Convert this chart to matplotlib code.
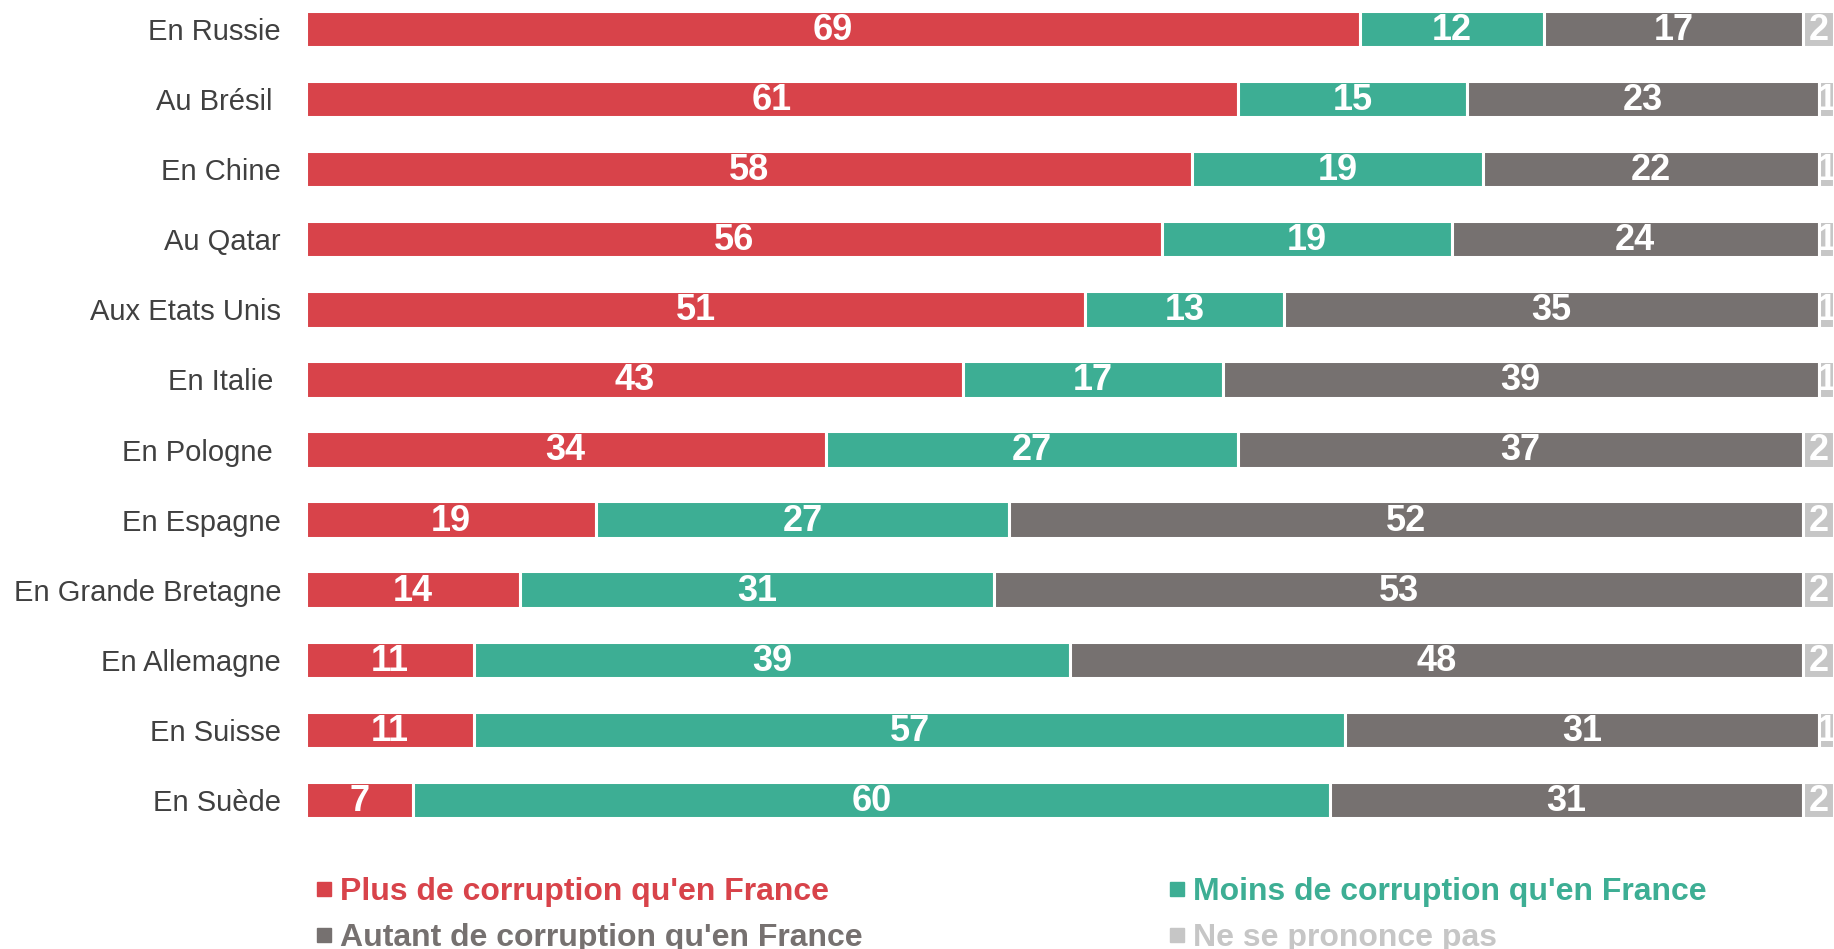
import matplotlib
matplotlib.use('Agg')
import matplotlib.pyplot as plt
from matplotlib.lines import Line2D
import numpy as np

plt.rcParams['font.family'] = ['Liberation Sans', 'DejaVu Sans']

countries = ['En Russie', 'Au Brésil ', 'En Chine', 'Au Qatar', 'Aux Etats Unis',
             'En Italie ', 'En Pologne ', 'En Espagne', 'En Grande Bretagne',
             'En Allemagne', 'En Suisse', 'En Suède']
plus = [69, 61, 58, 56, 51, 43, 34, 19, 14, 11, 11, 7]
moins = [12, 15, 19, 19, 13, 17, 27, 27, 31, 39, 57, 60]
autant = [17, 23, 22, 24, 35, 39, 37, 52, 53, 48, 31, 31]
nsp = [2, 1, 1, 1, 1, 1, 2, 2, 2, 2, 1, 2]

series = [
    ("Plus de corruption qu'en France", plus, '#D8434A'),
    ("Moins de corruption qu'en France", moins, '#3DAE94'),
    ("Autant de corruption qu'en France", autant, '#767170'),
    ('Ne se prononce pas', nsp, '#C6C6C6'),
]

fig = plt.figure(figsize=(18.34, 9.49), dpi=100)
ax = fig.add_axes([306 / 1834, 114 / 949, 1 - 306 / 1834, 835 / 949])

y = np.arange(len(countries))
left = np.zeros(len(countries))
for name, vals, col in series:
    vals = np.array(vals, float)
    ax.barh(y, vals, left=left, height=0.52, color=col, edgecolor='white', linewidth=2.2)
    for yi, l, v in zip(y, left, vals):
        ax.text(l + v / 2, yi + 0.02, f'{int(v)}', ha='center', va='center',
                color='white', fontsize=26, fontweight='bold', clip_on=True)
    left += vals

ax.set_xlim(0, 100)
ax.set_ylim(11.5, -0.414)
ax.set_yticks(y)
ax.set_yticklabels(countries, fontsize=21, color='#404040')
ax.tick_params(axis='y', length=0, pad=18)
ax.set_xticks([])
for s in ax.spines.values():
    s.set_visible(False)

# legend: column-wise order -> Plus, Autant | Moins, NSP
order = [0, 2, 1, 3]
handles = [Line2D([], [], marker='s', ls='none', markersize=9.5,
                  color=series[i][2]) for i in order]
labels = [series[i][0] for i in order]
leg = fig.legend(handles, labels, ncol=2, frameon=False, loc='upper left',
                 bbox_to_anchor=(316 / 1834, 1 - 877 / 949),
                 prop={'size': 23, 'weight': 'bold'},
                 handlelength=0.5, handletextpad=0.25, columnspacing=9.6,
                 labelspacing=0.5, borderaxespad=0, borderpad=0)
for txt, i in zip(leg.get_texts(), order):
    txt.set_color(series[i][2])

fig.savefig('out.png', dpi=100)
